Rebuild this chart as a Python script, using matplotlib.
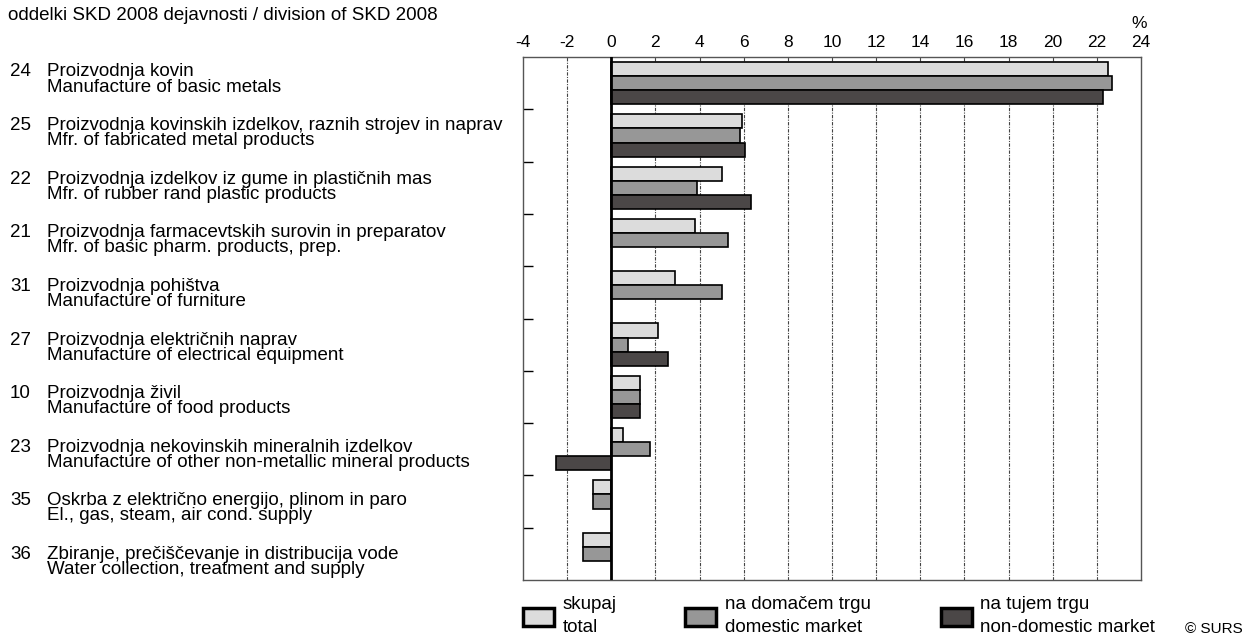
import numpy as np
import matplotlib
matplotlib.use('Agg')
import matplotlib.pyplot as plt
from matplotlib.patches import Rectangle
from matplotlib.transforms import blended_transform_factory

plt.rcParams['font.family'] = ['Liberation Sans', 'DejaVu Sans']

codes = ['24', '25', '22', '21', '31', '27', '10', '23', '35', '36']
names = [
  'Proizvodnja kovin\nManufacture of basic metals',
  'Proizvodnja kovinskih izdelkov, raznih strojev in naprav\nMfr. of fabricated metal products',
  'Proizvodnja izdelkov iz gume in plastičnih mas\nMfr. of rubber rand plastic products',
  'Proizvodnja farmacevtskih surovin in preparatov\nMfr. of basic pharm. products, prep.',
  'Proizvodnja pohištva\nManufacture of furniture',
  'Proizvodnja električnih naprav\nManufacture of electrical equipment',
  'Proizvodnja živil\nManufacture of food products',
  'Proizvodnja nekovinskih mineralnih izdelkov\nManufacture of other non-metallic mineral products',
  'Oskrba z električno energijo, plinom in paro\nEl., gas, steam, air cond. supply',
  'Zbiranje, prečiščevanje in distribucija vode\nWater collection, treatment and supply',
]
total = [22.5, 5.92, 5.02, 3.79, 2.90, 2.11, 1.28, 0.53, -0.82, -1.26]
domestic = [22.7, 5.82, 3.88, 5.29, 5.02, 0.77, 1.28, 1.75, -0.82, -1.26]
non_domestic = [22.3, 6.08, 6.35, np.nan, np.nan, 2.55, 1.28, -2.49, np.nan, np.nan]

series_labels = ['skupaj\ntotal', 'na domačem trgu\ndomestic market', 'na tujem trgu\nnon-domestic market']
colors = ['#dcdcdc', '#979797', '#4b4747']
xticks = list(range(-4, 25, 2))

W, H = 1253, 639
fig = plt.figure(figsize=(W/100, H/100), dpi=100)
ax = fig.add_axes([523/W, 1-580/H, (1141-523)/W, (580-57)/H])

y = np.arange(len(codes))
bh = 0.27
for k, (vals, c) in enumerate(zip([total, domestic, non_domestic], colors)):
  vals = np.array(vals, dtype=float)
  m = ~np.isnan(vals)
  ax.barh(y[m] + (k-1)*bh, vals[m], height=bh, color=c, edgecolor='black', linewidth=1.2, zorder=3)

ax.axvline(0, color='black', lw=2, zorder=4)
for t in xticks:
  if t not in (-4, 0, 24):
    ax.axvline(t, color='#444444', lw=0.8, ls=(0, (3, 1.2, 1, 1.2)), zorder=1)

ax.set_xlim(-4, 24)
ax.set_ylim(len(codes)-0.5, -0.5)
ax.xaxis.tick_top()
ax.set_xticks(xticks)
ax.set_xticklabels([str(t) for t in xticks], fontsize=12.5)
ax.tick_params(axis='x', length=0, pad=5)
ax.set_yticks(np.arange(0.5, len(codes)-1, 1))
ax.set_yticklabels([])
ax.tick_params(axis='y', direction='in', length=7, width=1, color='black')
for s in ax.spines.values():
  s.set_color('#555555')
  s.set_linewidth(1)

# category labels: code sits on the first line, text rows run a bit wider than the groups
tr = blended_transform_factory(fig.transFigure, ax.transData)
for i in range(len(codes)):
  ty = i - 0.07 + i*0.025
  ax.text(10/W, ty, codes[i] + '\n ', transform=tr, fontsize=13.5, va='center', ha='left', linespacing=0.85)
  ax.text(47/W, ty, names[i], transform=tr, fontsize=13.5, va='center', ha='left', linespacing=0.85)

fig.text(8/W, 1-15/H, 'oddelki SKD 2008 dejavnosti / division of SKD 2008', fontsize=13.5, va='center', ha='left')
fig.text(1139/W, 1-24/H, '%', fontsize=12.5, va='center', ha='center')

# legend
leg_x = [523, 685, 941]
text_x = [563, 725, 980]
for lx, tx, c, lab in zip(leg_x, text_x, colors, series_labels):
  fig.patches.append(Rectangle((lx/W, 1-626/H), 31/W, 18/H, transform=fig.transFigure,
                               facecolor=c, edgecolor='black', linewidth=2.5))
  fig.text(tx/W, 1-616/H, lab, fontsize=13.5, va='center', ha='left', linespacing=1.4)

fig.text(1185/W, 1-629/H, '© SURS', fontsize=11, va='center', ha='left')

fig.savefig('out.png', dpi=100)
